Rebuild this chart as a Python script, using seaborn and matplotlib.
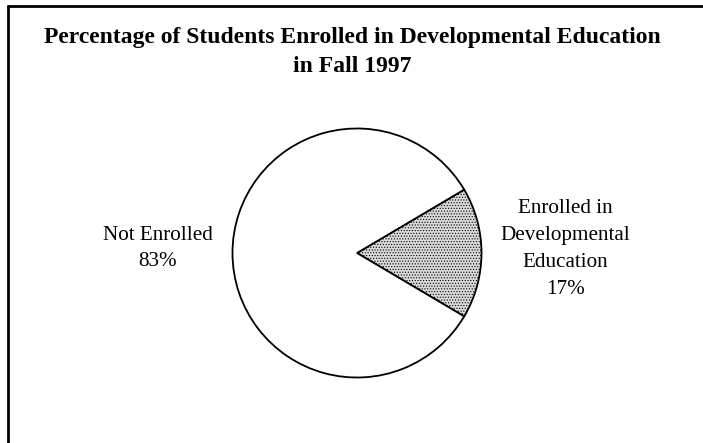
import matplotlib
matplotlib.use("Agg")
import matplotlib.pyplot as plt
import seaborn as sns
from matplotlib.lines import Line2D

sns.set_theme(style="white")
plt.rcParams['font.family'] = ['Liberation Serif', 'DejaVu Serif']
plt.rcParams['text.color'] = 'black'
plt.rcParams['hatch.linewidth'] = 0.5
plt.rcParams['hatch.color'] = '#9a9a9a'

title = "Percentage of Students Enrolled in Developmental Education\nin Fall 1997"
categories = ["Enrolled in\nDevelopmental\nEducation", "Not Enrolled"]
values = [17, 83]
pct_labels = ["17%", "83%"]

W, H = 703, 443
fig = plt.figure(figsize=(W / 100, H / 100), dpi=100)
fig.patch.set_facecolor('white')

# pie axes: radius ~127 px, centre ~(357, 253)
cx, cy, r = 357, 253, 127
ax = fig.add_axes([(cx - r) / W, (H - cy - r) / H, 2 * r / W, 2 * r / H])
wedges, _ = ax.pie(values, startangle=-values[0] * 3.6 / 2, counterclock=True,
                   colors=['#dadada', 'white'],
                   wedgeprops=dict(edgecolor='black', linewidth=1.3))
wedges[0].set_hatch('......')
ax.set_xlim(-1.02, 1.02)
ax.set_ylim(-1.02, 1.02)
ax.axis('off')

# labels
fig.text(565 / W, 1 - 249 / H, categories[0] + "\n" + pct_labels[0],
         ha='center', va='center', fontsize=15.2, linespacing=1.55, color='black')
fig.text(158 / W, 1 - 248.5 / H, categories[1] + "\n" + pct_labels[1],
         ha='center', va='center', fontsize=15.2, linespacing=1.55, color='black')

# title
fig.text(352 / W, 1 - 52 / H, title, ha='center', va='center',
         fontsize=17, fontweight='bold', linespacing=1.45, color='black')

# frame lines (left and top)
fig.add_artist(Line2D([8 / W, 8 / W], [0, 1 - 6 / H], color='black', lw=2,
                      transform=fig.transFigure))
fig.add_artist(Line2D([8 / W, 1], [1 - 6 / H, 1 - 6 / H], color='black', lw=2,
                      transform=fig.transFigure))

fig.savefig("out.png", dpi=100, facecolor='white')
